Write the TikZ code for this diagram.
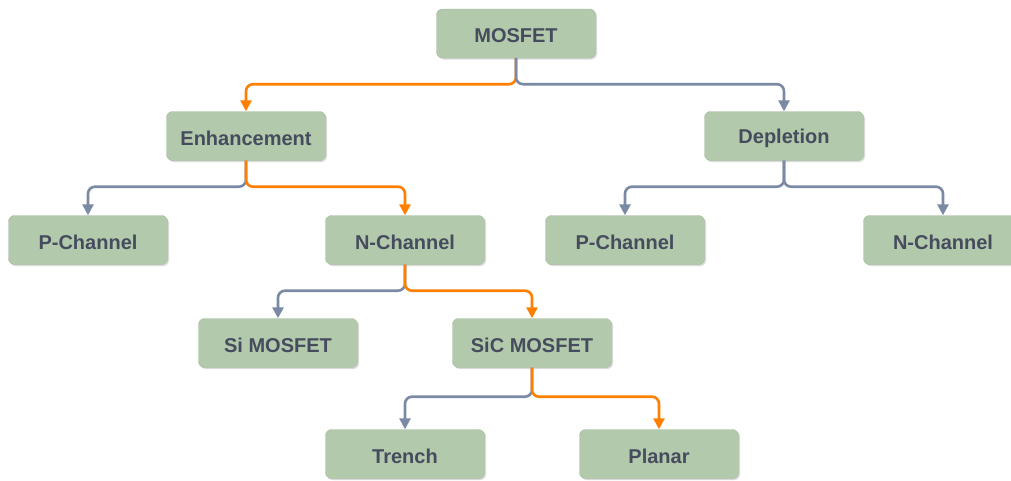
\documentclass[tikz,border=0pt]{standalone}
\usepackage{fontspec}
\setmainfont{Liberation Sans}
\usetikzlibrary{arrows.meta,shadows}
\definecolor{boxfill}{RGB}{178,201,171}
\definecolor{boxtext}{RGB}{70,76,94}
\definecolor{linkorange}{RGB}{255,128,0}
\definecolor{linkgray}{RGB}{122,138,164}
\begin{document}
\begin{tikzpicture}[x=1pt,y=-1pt]
\tikzstyle{box}=[rectangle, rounded corners=6pt, fill=boxfill, draw=boxfill!92!black, line width=0.4pt,
  minimum width=159pt, minimum height=49pt, inner sep=0pt, text=boxtext,
  font=\fontsize{20}{22}\selectfont\bfseries,
  drop shadow={shadow xshift=1.5pt, shadow yshift=-1.5pt, fill=black!25, opacity=0.6}]
\tikzstyle{lbl}=[text=boxtext, font=\fontsize{20}{22}\selectfont\bfseries, yshift=-2pt]
\tikzstyle{hot}=[draw=linkorange, line width=2.6pt, rounded corners=7pt, -{Triangle[length=11pt,width=11pt]}]
\tikzstyle{cold}=[draw=linkgray, line width=2.6pt, rounded corners=7pt, -{Triangle[length=11pt,width=11pt]}]

\useasboundingbox (0,0) rectangle (1011,480);
\clip (0,0) rectangle (1011,480);

\node (mosfet) at (516,33.5) [box] {};
\node (enh) at (246,136) [box] {};
\node (dep) at (784,136) [box] {};
\node (enhp) at (88,240) [box] {};
\node (enhn) at (405,240) [box] {};
\node (depp) at (625,240) [box] {};
\node (depn) at (943,240) [box] {};
\node (si) at (278,343) [box] {};
\node (sic) at (532,343) [box] {};
\node (trench) at (405,454) [box] {};
\node (planar) at (659,454) [box] {};

% labels, a little below the box centres
\node (mosfett) at (mosfet) [lbl] {MOSFET};
\node (enht) at (enh) [lbl] {Enhancement};
\node (dept) at (dep) [lbl] {Depletion};
\node (enhpt) at (enhp) [lbl] {P-Channel};
\node (enhnt) at (enhn) [lbl] {N-Channel};
\node (deppt) at (depp) [lbl] {P-Channel};
\node (depnt) at (depn) [lbl] {N-Channel};
\node (sit) at (si) [lbl] {Si MOSFET};
\node (sict) at (sic) [lbl] {SiC MOSFET};
\node (trencht) at (trench) [lbl] {Trench};
\node (planart) at (planar) [lbl] {Planar};

\draw[hot] (mosfet.south) -- ++(0,26) -| (enh.north);
\draw[cold] (mosfet.south) -- ++(0,26) -| (dep.north);
\draw[cold] (enh.south) -- ++(0,26) -| (enhp.north);
\draw[hot] (enh.south) -- ++(0,26) -| (enhn.north);
\draw[cold] (dep.south) -- ++(0,26) -| (depp.north);
\draw[cold] (dep.south) -- ++(0,26) -| (depn.north);
\draw[cold] (enhn.south) -- ++(0,26) -| (si.north);
\draw[hot] (enhn.south) -- ++(0,26) -| (sic.north);
\draw[cold] (sic.south) -- ++(0,29) -| (trench.north);
\draw[hot] (sic.south) -- ++(0,29) -| (planar.north);
\end{tikzpicture}
\end{document}
